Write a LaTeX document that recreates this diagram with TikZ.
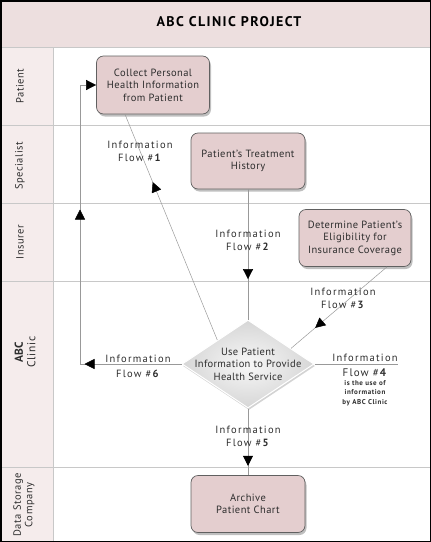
\documentclass[tikz,border=0pt]{standalone}
\usepackage{fontspec}
\setmainfont{PT Sans}
\usetikzlibrary{shapes.geometric,arrows.meta,decorations.markings,shadows}
\definecolor{boxpink}{RGB}{228,206,207}
\definecolor{bandpink}{RGB}{237,223,223}
\definecolor{lanepink}{RGB}{245,236,236}
\definecolor{inktext}{RGB}{45,45,45}
\definecolor{rulegray}{RGB}{200,200,200}
\newcommand{\flowtxt}[1]{Information\\Flow \#\textbf{#1}}

\begin{document}
\begin{tikzpicture}[x=1pt,y=-1pt,
	procbox/.style={ rectangle, rounded corners=7pt, draw=gray!75!black, line width=0.7pt, fill=boxpink, text=inktext, align=center, font=\fontsize{10.5}{12.5}\selectfont\addfontfeature{LetterSpace=4}, inner sep=0pt, drop shadow={opacity=0.5, shadow xshift=1.5pt, shadow yshift=-2.5pt} },
	usebox/.style={ diamond, inner sep=0pt, minimum width=132pt, minimum height=88pt, inner color=gray!6, outer color=gray!32, draw=white, line width=1pt, drop shadow={opacity=0.35, shadow xshift=1pt, shadow yshift=-2pt} },
	usetext/.style={ text=inktext, align=center, font=\fontsize{10.5}{12.5}\selectfont\addfontfeature{LetterSpace=3} },
	flowlabel/.style={ text=inktext, align=center, font=\fontsize{10.5}{13}\selectfont\addfontfeature{LetterSpace=12} },
	lanelabel/.style={ rotate=90, text=inktext, align=center, font=\fontsize{10.5}{11.5}\selectfont\addfontfeature{LetterSpace=5} },
	flowline/.style={ draw=gray!80, line width=0.5pt },
	midtip/.style={ postaction={decorate}, decoration={markings, mark=at position #1 with {\arrow[black]{Triangle[length=10pt,width=10pt]}}} }
]
\useasboundingbox (0,0) rectangle (431,542);

% lanes
\fill[bandpink] (0,0) rectangle (431,47);
\fill[lanepink] (0,47) rectangle (53,542);
\foreach \y in {47,125,203,281,467}
  \draw[rulegray, line width=0.6pt] (0,\y) -- (431,\y);
\draw[rulegray, line width=0.6pt] (53,47) -- (53,542);
\node at (229,22) [font=\fontsize{14}{16}\selectfont\bfseries\addfontfeature{LetterSpace=10}] (title) {ABC CLINIC PROJECT};
\node at (20,86) [lanelabel] (lanepat) {Patient};
\node at (20,166) [lanelabel] (lanespec) {Specialist};
\node at (20,242) [lanelabel] (laneins) {Insurer};
\node at (25,352) [lanelabel, font=\fontsize{11.5}{12.5}\selectfont\addfontfeature{LetterSpace=5}] (laneabc) {\textbf{ABC}\\Clinic};
\node at (24,505) [lanelabel] (lanedata) {Data Storage\\Company};

% steps
\node at (153,85) [procbox, minimum width=113pt, minimum height=58pt] (collect) {Collect Personal\\Health Information\\from Patient};
\node at (248,161) [procbox, minimum width=114pt, minimum height=56pt] (history) {Patient's Treatment\\History};
\node at (355,238) [procbox, minimum width=112pt, minimum height=57pt] (elig) {Determine Patient's\\Eligibility for\\Insurance Coverage};
\node at (248,364) [usebox, label={[usetext]center:{Use Patient\\Information to Provide\\Health Service}}] (usediamond) {};
\node at (248,504) [procbox, minimum width=114pt, minimum height=57pt] (archive) {Archive\\Patient Chart};

% flows
\coordinate (c6) at (80,364);
\coordinate (c4) at (398,364);
\draw[flowline, midtip=0.7] (usediamond.142) -- ([xshift=-28pt]collect.south);
\draw[flowline, midtip=0.69] (history.south) -- (usediamond.north);
\draw[flowline, midtip=0.75] ([xshift=32pt]elig.south) -- (usediamond.20);
\draw[flowline] (usediamond.east) -- (c4);
\draw[flowline, midtip=0.86] (usediamond.south) -- (archive.north);
\draw[flowline, -{Triangle[length=10pt,width=10pt,color=black]}, postaction={decorate},
  decoration={markings,
    mark=at position 97pt with {\arrow[black]{Triangle[length=10pt,width=10pt]}},
    mark=at position 256pt with {\arrow[black]{Triangle[length=10pt,width=10pt]}}}]
  (usediamond.west) -- (c6) |- (collect.west);

\node at (140,151) [flowlabel] (lab1) {\flowtxt{1}};
\node at (248,240) [flowlabel] (lab2) {\flowtxt{2}};
\node at (343,298) [flowlabel] (lab3) {\flowtxt{3}};
\node at (138,366) [flowlabel, font=\fontsize{10.5}{15}\selectfont\addfontfeature{LetterSpace=12}] (lab6) {\flowtxt{6}};
\node at (248,436) [flowlabel] (lab5) {\flowtxt{5}};
\node at (365,358) [flowlabel] (lab4a) {Information};
\node at (365,373) [flowlabel, font=\fontsize{11}{13}\selectfont\addfontfeature{LetterSpace=10}] (lab4b) {Flow \#\textbf{4}};
\node at (365,393) [flowlabel, font=\fontsize{7}{9.5}\selectfont\bfseries\addfontfeature{LetterSpace=8}] (lab4c) {is the use of\\information\\by ABC Clinic};

\draw[line width=1.5pt] (0.75,0.75) rectangle (430.25,541.25);
\end{tikzpicture}
\end{document}
